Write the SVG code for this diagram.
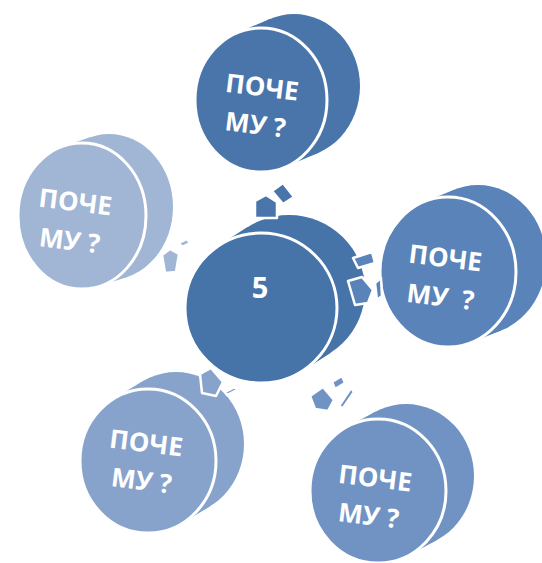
<svg xmlns="http://www.w3.org/2000/svg" width="542" height="563" viewBox="0 0 542 563">
<style>
.front{stroke:#fff;stroke-width:3}
.lbl{font-family:"Open Sans","Noto Sans","Liberation Sans",sans-serif;font-weight:bold;font-size:26px;fill:#fff;text-anchor:middle}
.arr{stroke:#fff;stroke-width:2.5;stroke-linejoin:round}
.c0{fill:#4673A8}.c1{fill:#4A75AA}.c2{fill:#5A83B9}.c3{fill:#7193C3}.c4{fill:#87A2CB}.c5{fill:#A1B5D5}
</style>
<rect width="542" height="563" fill="#fff"/>
<g id="node-top" class="c1">
<ellipse cx="294" cy="86" rx="66" ry="72"/>
<polygon points="285,167.1 318,153.1 270,18.9 237,32.9"/>
<ellipse class="front" cx="261" cy="100" rx="66" ry="72"/>
<g transform="rotate(7 258 112)"><text class="lbl" x="259" y="96">ПОЧЕ</text><text class="lbl" x="257" y="134">МУ ?</text></g>
</g>
<g id="node-right" class="c2">
<ellipse cx="478" cy="260" rx="68" ry="75"/>
<polygon points="471.1,342.5 501.1,330.5 454.9,189.5 424.9,201.5"/>
<ellipse class="front" cx="448" cy="272" rx="68" ry="75"/>
<g transform="rotate(7 443 277)"><text class="lbl" x="443" y="267">ПОЧЕ</text><text class="lbl" x="443" y="306" xml:space="preserve">МУ  ?</text></g>
</g>
<g id="node-bottom-right" class="c3">
<ellipse cx="406" cy="476" rx="68" ry="72"/>
<polygon points="408.7,555.3 436.7,540.3 375.3,411.7 347.3,426.7"/>
<ellipse class="front" cx="378" cy="491" rx="68" ry="72"/>
<g transform="rotate(7 372 496)"><text class="lbl" x="373" y="487">ПОЧЕ</text><text class="lbl" x="371" y="525">МУ ?</text></g>
</g>
<g id="node-bottom-left" class="c4">
<ellipse cx="176" cy="444" rx="68" ry="72"/>
<polygon points="181.8,523.5 209.8,506.5 142.2,381.5 114.2,398.5"/>
<ellipse class="front" cx="148" cy="461" rx="68" ry="72"/>
<g transform="rotate(7 144 461)"><text class="lbl" x="144" y="452">ПОЧЕ</text><text class="lbl" x="144" y="490">МУ ?</text></g>
</g>
<g id="node-left" class="c5">
<ellipse cx="109" cy="207" rx="64" ry="73"/>
<polygon points="100,286.1 127,277.1 91,136.9 64,145.9"/>
<ellipse class="front" cx="82" cy="216" rx="64" ry="73"/>
<g transform="rotate(7 73 221)"><text class="lbl" x="73" y="211">ПОЧЕ</text><text class="lbl" x="72" y="250">МУ ?</text></g>
</g>
<g id="node-center" class="c0">
<ellipse cx="289" cy="290" rx="76" ry="75"/>
<polygon points="302.5,370.9 330.5,352.9 247.5,227.1 219.5,245.1"/>
<ellipse class="front" cx="261" cy="308" rx="76" ry="75"/>
<text class="lbl" x="260" y="298" style="font-size:29px">5</text>
</g>
<g id="connectors">
<g class="c1">
<polygon class="arr" points="272,191 283,183 294,197 283,204"/>
<polygon class="arr" points="255,218 255,201 266,195 277,202 277,218"/>
</g>
<g class="c5">
<polygon class="arr" points="179,243 187,239 190,243 182,247"/>
<polygon class="arr" points="162,255 170,249 179,254 176,272 165,273"/>
</g>
<g class="c2">
<polygon class="arr" points="353,258 372,252 375,263 358,268"/>
<polygon class="arr" points="375,283 381,278 382,296 377,300"/>
<polygon class="arr" points="348,281 362,277 373,290 368,303 355,305"/>
</g>
<g class="c4">
<polygon class="arr" points="225,392 235,387 237,390 227,395"/>
<polygon class="arr" points="200,374 211,368 223,382 216,396 202,393"/>
</g>
<g class="c3">
<polygon class="arr" points="332,382 342,376 345,383 335,389"/>
<polygon class="arr" points="339,406 351,388 354,392 343,408"/>
<polygon class="arr" points="310,396 323,387 334,400 328,411 315,409"/>
</g>
</g>
</svg>
